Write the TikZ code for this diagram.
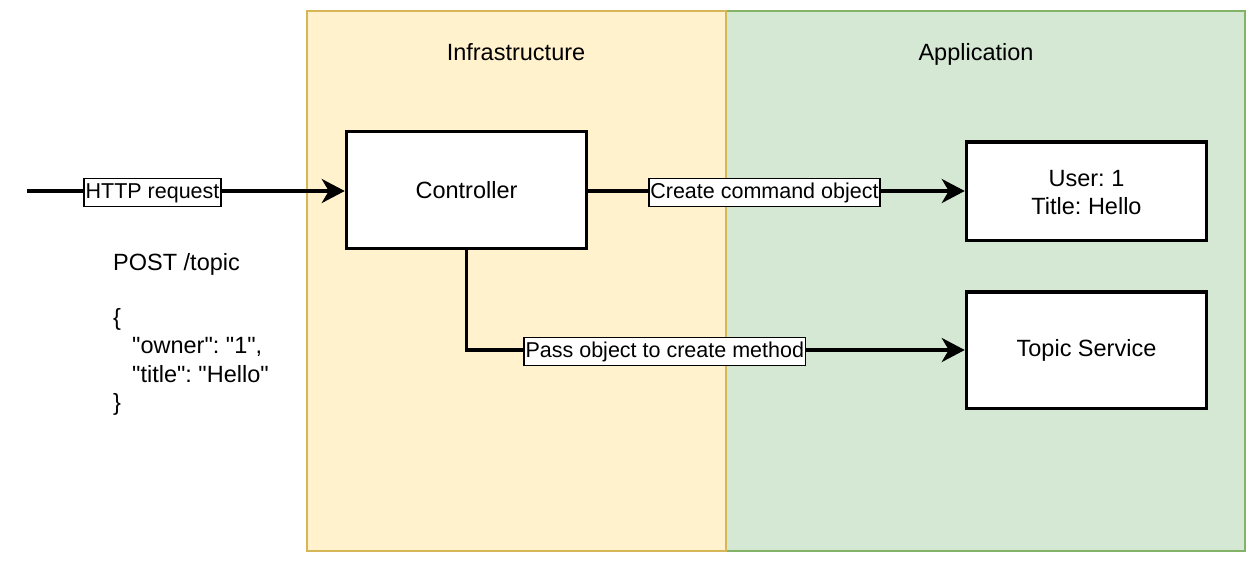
\documentclass[tikz,border=0pt]{standalone}
\usepackage{fontspec}
\setmainfont{Liberation Sans}[Ligatures=TeXOff]
\usetikzlibrary{arrows.meta}
\definecolor{infrafill}{HTML}{FFF2CC}
\definecolor{infradraw}{HTML}{D6B656}
\definecolor{appfill}{HTML}{D5E8D4}
\definecolor{appdraw}{HTML}{82B366}
\newcommand{\bigfs}{\fontsize{23.5}{28.2}\selectfont}
\newcommand{\lblfs}{\fontsize{21.5}{25}\selectfont}
\frenchspacing
\tikzset{
  region/.style={line width=2pt},
  boxnode/.style={draw=black, fill=white, line width=3.5pt, minimum width=240pt, font=\bigfs, align=center, inner sep=0pt},
  conn/.style={draw=black, line width=3.5pt, -{Stealth[length=23pt,width=24pt,inset=7pt]}},
  lbl/.style={draw=black, fill=white, line width=1.5pt, font=\lblfs, inner xsep=1.5pt, inner ysep=3.5pt, text height=16pt, text depth=5pt, yshift=-1.5pt},
  title/.style={font=\bigfs, inner sep=0pt, anchor=base},
  codeline/.style={font=\bigfs, inner sep=0pt, anchor=base west}
}
\begin{document}
\begin{tikzpicture}[x=1pt,y=-1pt]
\useasboundingbox[fill=white] (0,0) rectangle (1258,562);
% regions
\draw[region, fill=appfill, draw=appdraw] (726,11) rectangle (1245,551);
\draw[region, fill=infrafill, draw=infradraw] (307,11) rectangle (726,551);
\node[title] (infra) at (516,60) {Infrastructure};
\node[title] (app) at (976,60) {Application};
% boxes
\node[boxnode, minimum height=117pt] (ctrl) at (466.5,190) {Controller};
\node[boxnode, minimum height=98.5pt] (user) at (1086.5,191) {\rule{0pt}{19pt}User: 1\\Title: Hello};
\node[boxnode, minimum height=116.5pt] (topic) at (1086.5,350) {Topic Service};
% request text
\node[codeline] (post) at (113,270) {POST /topic};
\node[codeline] (open) at (113,325) {\{};
\node[codeline] (owner) at (132,353) {"owner": "1",};
\node[codeline] (ttl) at (132,382) {"title": "Hello"};
\node[codeline] (close) at (113,410) {\}};
% connectors
\coordinate (src) at (27,191);
\draw[conn] (src) -- (src -| ctrl.west) node[lbl, pos=0.395] (lhttp) {HTTP request};
\draw[conn] (ctrl.east |- user.west) -- (user.west) node[lbl, pos=0.468] (lcreate) {Create command object};
\draw[conn] (ctrl.south) |- (topic.west) node[lbl, pos=0.699] (lpass) {Pass object to create method};
\end{tikzpicture}
\end{document}
